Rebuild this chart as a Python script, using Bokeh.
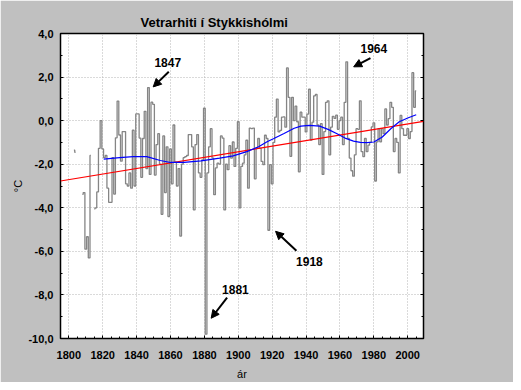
from bokeh.plotting import figure
from bokeh.models import (Range1d, LinearAxis, SingleIntervalTicker, CustomJSTickFormatter,
                          Label, Arrow, NormalHead)
from bokeh.embed import file_html
from bokeh.resources import INLINE

# ---- data -------------------------------------------------------------
years = list(range(1803, 2006))
winter_temp = [
    -1.35, -1.45, None, None, None,                                   # 1803-1807
    -3.38, -3.3, -5.9, -5.33, -6.3, -1.6, None,                        # 1808-1814
    -4.05, -4.0, -3.27, -1.27, 0.0, -1.3, -1.7, -1.6, -3.1, -3.75,     # 1815-1824
    -3.75, -1.7, -3.37, -0.79, 0.9, -0.66, -1.86, -0.5, -0.5, -2.9,    # 1825-1834
    -3.0, -2.4, -3.1, -0.44, -3.0, 0.31, 0.31, -0.8, -2.6, -0.82,      # 1835-1844
    0.43, -2.2, 1.52, -2.47, 0.85, 0.75, -2.5, -1.1, -0.6, -2.0,       # 1845-1854
    -4.3, -0.7, -3.3, -1.2, -4.4, -1.3, -2.9, -0.2, -1.9, -3.0,        # 1855-1864
    -2.2, -5.3, -2.0, -1.7, -1.65, -1.6, -0.64, -0.64, -1.2, -4.1,     # 1865-1874
    -1.1, -0.64, -2.4, -2.6, -1.8, 0.57, -9.8, -2.4, -1.2, -0.37,      # 1875-1884
    -1.72, -3.4, -2.17, -1.95, -2.0, -0.7, -0.8, -4.1, -2.0, -2.25,    # 1885-1894
    -1.15, -1.72, -0.98, -2.1, -1.27, -0.05, -4.0, -2.1, -1.95, -1.57, # 1895-1904
    -0.9, -3.1, -0.34, -0.37, -0.34, -2.67, -1.24, -0.82, -1.27, -1.87,# 1905-1914
    -2.02, -0.67, -0.82, -5.03, -2.02, -2.9, -1.0, 0.16, 0.99, -0.52,  # 1915-1924
    -0.45, 0.16, 0.17, -0.3, 2.42, 1.07, -1.64, 1.07, 0.0, 0.67,       # 1925-1934
    -0.05, -2.35, 0.39, 0.16, 0.16, -0.52, 0.3, 1.44, -0.89, -0.07,    # 1935-1944
    1.14, 1.2, -0.2, -1.1, -0.14, -2.47, -0.5, 0.84, 0.91, -1.57,      # 1945-1954
    -0.3, 0.2, 0.1, 0.25, -0.4, 0.0, 0.16, -1.1, 0.84, 2.7,            # 1955-1964
    -0.82, -1.72, -2.3, -2.55, -1.57, -0.37, -0.4, 0.91, -1.42, -1.65, # 1965-1974
    -0.82, -1.42, -1.12, -1.0, -0.29, -0.1, -2.77, -0.97, -0.37, -0.97,# 1975-1984
    -0.37, -0.6, 0.54, -0.2, 0.09, 0.84, 0.61, -1.42, -0.82, -1.0,     # 1985-1994
    -2.4, 0.24, -0.37, -0.67, -0.67, -0.37, -0.82, -0.5, 2.2, 0.61,    # 1995-2004
    1.37,                                                              # 2005
]

trend_years = [1795.1, 2009.3]
trend_values = [-2.77, -0.03]

smooth_years = [1820.6, 1830, 1838, 1846, 1854, 1860, 1868, 1878, 1889, 1897,
                1905, 1912, 1917, 1921, 1927, 1933, 1937, 1942, 1948, 1953,
                1958, 1963, 1968, 1972, 1976, 1980, 1985, 1990, 1995, 2000, 2005]
smooth_values = [-1.77, -1.7, -1.65, -1.65, -1.83, -1.92, -1.92, -1.85, -1.72, -1.62,
                 -1.42, -1.2, -0.97, -0.82, -0.59, -0.35, -0.25, -0.22, -0.25, -0.4,
                 -0.59, -0.8, -0.94, -1.0, -1.01, -0.98, -0.75, -0.37, -0.05, 0.12, 0.27]

notes = ["1847", "1964", "1918", "1881"]

# ---- figure -------------------------------------------------------------
BG = "#c0c0c0"
FONT = "Liberation Sans"

p = figure(width=513, height=382, output_backend="svg", toolbar_location=None,
           x_range=Range1d(1795.1, 2009.3), y_range=Range1d(-10, 4),
           min_border_left=60, min_border_right=90, min_border_top=33, min_border_bottom=39,
           background_fill_color="white", border_fill_color=BG,
           outline_line_color="black", outline_line_width=1.5)

p.title.text = "Vetrarhiti í Stykkishólmi"
p.title.text_font = FONT
p.title.text_font_size = "13px"
p.title.text_font_style = "bold"
p.title.text_color = "black"
p.title.align = "left"
p.title.offset = 80
p.title.standoff = 8

for ax in (p.xaxis[0], p.yaxis[0]):
    ax.axis_line_color = None
    ax.major_tick_in = 3
    ax.major_tick_out = 0
    ax.minor_tick_in = 2
    ax.minor_tick_out = 0
    ax.major_tick_line_color = "black"
    ax.minor_tick_line_color = "black"
    ax.major_label_text_font = FONT
    ax.major_label_text_font_size = "11px"
    ax.major_label_text_font_style = "bold"
    ax.major_label_text_color = "black"
    ax.axis_label_text_font = FONT
    ax.axis_label_text_font_style = "normal"
    ax.axis_label_text_font_size = "11px"
    ax.axis_label_text_color = "black"

p.xaxis[0].ticker = SingleIntervalTicker(interval=20, num_minor_ticks=4)
p.yaxis[0].ticker = SingleIntervalTicker(interval=2, num_minor_ticks=2)
p.yaxis[0].formatter = CustomJSTickFormatter(code="return tick.toFixed(1).replace('.', ',');")
p.xaxis[0].axis_label = "ár"
p.yaxis[0].axis_label = "°C"
p.xaxis[0].major_label_standoff = 12
p.yaxis[0].major_label_standoff = 7
p.xaxis[0].axis_label_standoff = 6
p.yaxis[0].axis_label_standoff = 1

right = LinearAxis(ticker=SingleIntervalTicker(interval=2, num_minor_ticks=2),
                   axis_line_color=None, major_tick_in=3, major_tick_out=0,
                   minor_tick_in=2, minor_tick_out=0, major_label_text_font_size="0px",
                   major_label_text_color=None)
p.add_layout(right, "right")

p.grid.grid_line_color = "#b4b4b4"
p.grid.grid_line_dash = "1 2"
p.grid.grid_line_width = 1

# ---- series -------------------------------------------------------------
segments = []
cur_x, cur_y = [], []
for yr, v in zip(years, winter_temp):
    if v is None:
        if cur_x:
            segments.append((cur_x, cur_y))
        cur_x, cur_y = [], []
    else:
        cur_x.append(yr)
        cur_y.append(v)
if cur_x:
    segments.append((cur_x, cur_y))

for sx, sy in segments:
    p.step(sx, sy, mode="center", line_color="#858585", line_width=1.3)

p.line(trend_years, trend_values, line_color="#ff0000", line_width=1.2)
p.line(smooth_years, smooth_values, line_color="#0000ff", line_width=1.2)

# ---- annotations --------------------------------------------------------
label_pos = [(1858.4, 2.69), (1980.0, 3.31), (1942.0, -6.46), (1898.3, -7.75)]
arrow_pos = [((1859.0, 2.24), (1849.8, 1.55)),
             ((1978.0, 2.87), (1968.1, 2.47)),
             ((1934.3, -5.97), (1922.0, -5.08)),
             ((1893.4, -8.12), (1884.0, -9.07))]

for txt, (lx, ly), ((x0, y0), (x1, y1)) in zip(notes, label_pos, arrow_pos):
    p.add_layout(Label(x=lx, y=ly, text=txt, text_align="center", text_baseline="middle",
                       text_font=FONT, text_font_size="12px", text_font_style="bold",
                       text_color="black", background_fill_color="white"))
    p.add_layout(Arrow(x_start=x0, y_start=y0, x_end=x1, y_end=y1, line_width=2,
                       line_color="black",
                       end=NormalHead(size=8, fill_color="black", line_color="black")))

open("out.html", "w").write(file_html(p, INLINE))
